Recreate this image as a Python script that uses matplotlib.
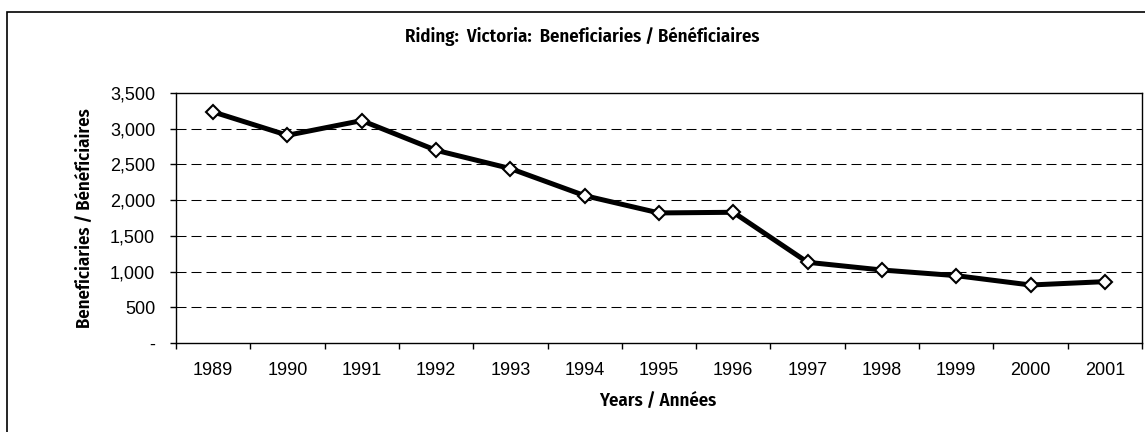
import matplotlib
matplotlib.use("Agg")
import matplotlib.pyplot as plt
from matplotlib.patches import Rectangle
from matplotlib.ticker import FuncFormatter, FixedLocator
from matplotlib import font_manager

# data
years = ["1989", "1990", "1991", "1992", "1993", "1994", "1995",
         "1996", "1997", "1998", "1999", "2000", "2001"]
beneficiaries = [3235, 2908, 3114, 2698, 2442, 2063, 1821,
                 1830, 1130, 1022, 943, 812, 859]
y_ticks = [0, 500, 1000, 1500, 2000, 2500, 3000, 3500]

title = "Riding:  Victoria:  Beneficiaries / Bénéficiaires"
xlabel = "Years / Années"
ylabel = "Beneficiaries / Bénéficiaires"

W, H = 1145, 432
fig = plt.figure(figsize=(W / 100, H / 100), dpi=100)
plt.rcParams['font.family'] = ['Liberation Sans', 'DejaVu Sans']

# narrow bold face for the titles, if one is around
narrow_file = None
for f in font_manager.findSystemFonts():
    n = f.lower()
    if ('narrow' in n or 'condensed' in n) and 'bold' in n and 'oblique' not in n and 'italic' not in n:
        if narrow_file is None or 'liberation' in n:
            narrow_file = f
if narrow_file:
    head_font = font_manager.FontProperties(fname=narrow_file, size=13.5)
else:
    head_font = font_manager.FontProperties(family='DejaVu Sans', weight='bold', size=10)

# outer chart frame (right/bottom edges run off the picture)
fig.patches.append(Rectangle((7 / W, -0.2), 2.0, 1 - 12 / H + 0.2,
                             transform=fig.transFigure, fill=False,
                             edgecolor='black', linewidth=1.2))

ax = fig.add_axes([176 / W, 1 - 343 / H, 966 / W, 250 / H])
x = list(range(len(years)))
ax.plot(x, beneficiaries, color='black', linewidth=3.6, marker='D',
        markersize=7, markerfacecolor='white', markeredgecolor='black',
        markeredgewidth=1.5, zorder=3)

ax.set_xlim(-0.5, len(years) - 0.5)
ax.set_ylim(0, 3500)
ax.xaxis.set_major_locator(FixedLocator([i - 0.5 for i in range(len(years) + 1)]))
ax.xaxis.set_minor_locator(FixedLocator(x))
ax.set_xticklabels([], minor=False)
ax.set_xticklabels(years, minor=True)
ax.tick_params(axis='x', which='major', direction='out', length=4, width=1)
ax.tick_params(axis='x', which='minor', length=0, pad=14, labelsize=13)

ax.set_yticks(y_ticks)
ax.yaxis.set_major_formatter(FuncFormatter(
    lambda v, p: "-" if v == 0 else "{:,.0f}".format(v)))
ax.tick_params(axis='y', direction='out', length=4, width=1, pad=11, labelsize=13)

for v in y_ticks[1:-1]:
    ax.axhline(v, color='black', linewidth=0.75, linestyle=(0, (9.6, 4.8)), zorder=1)

for s in ax.spines.values():
    s.set_linewidth(1)
    s.set_color('black')

fig.text(582 / W, 1 - 36 / H, title, ha='center', va='center', fontproperties=head_font)
fig.text(658 / W, 1 - 401 / H, xlabel, ha='center', va='center', fontproperties=head_font)
fig.text(85 / W, 1 - 218 / H, ylabel, ha='center', va='center', rotation=90,
         fontproperties=head_font)

fig.savefig("out.png", dpi=100)
